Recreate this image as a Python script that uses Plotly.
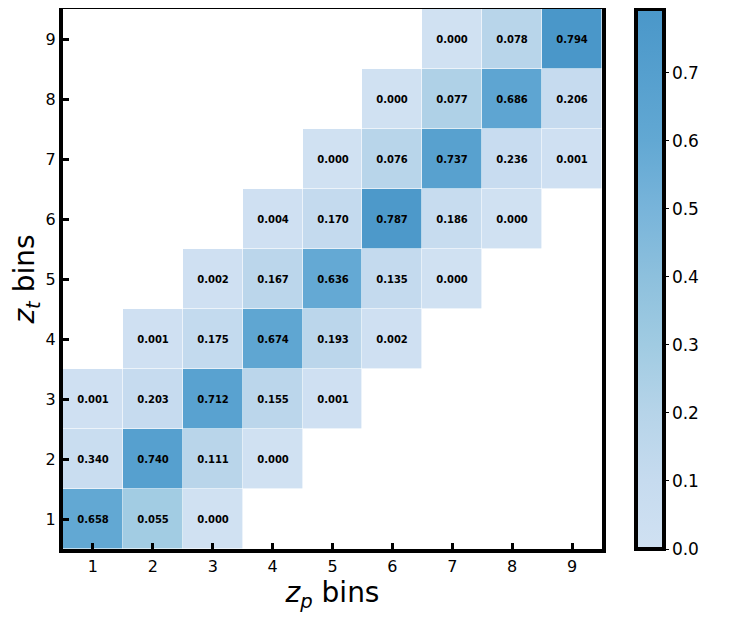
import plotly.graph_objects as go

# bin labels (z_p along x, z_t along y)
zp_bins = [1, 2, 3, 4, 5, 6, 7, 8, 9]
zt_bins = [1, 2, 3, 4, 5, 6, 7, 8, 9]
N = None

# printed fractions, one row per z_t bin (bottom -> top)
frac = [
    [0.658, 0.055, 0.000, N, N, N, N, N, N],
    [0.340, 0.740, 0.111, 0.000, N, N, N, N, N],
    [0.001, 0.203, 0.712, 0.155, 0.001, N, N, N, N],
    [N, 0.001, 0.175, 0.674, 0.193, 0.002, N, N, N],
    [N, N, 0.002, 0.167, 0.636, 0.135, 0.000, N, N],
    [N, N, N, 0.004, 0.170, 0.787, 0.186, 0.000, N],
    [N, N, N, N, 0.000, 0.076, 0.737, 0.236, 0.001],
    [N, N, N, N, N, 0.000, 0.077, 0.686, 0.206],
    [N, N, N, N, N, N, 0.000, 0.078, 0.794],
]

# cell shading
shade = [
    [0.60, 0.29, 0.00, N, N, N, N, N, N],
    [0.07, 0.69, 0.18, 0.00, N, N, N, N, N],
    [0.01, 0.10, 0.67, 0.17, 0.01, N, N, N, N],
    [N, 0.01, 0.12, 0.62, 0.17, 0.01, N, N, N],
    [N, N, 0.01, 0.17, 0.59, 0.11, 0.00, N, N],
    [N, N, N, 0.01, 0.11, 0.77, 0.09, 0.00, N],
    [N, N, N, N, 0.00, 0.19, 0.68, 0.08, 0.01],
    [N, N, N, N, N, 0.00, 0.23, 0.63, 0.10],
    [N, N, N, N, N, N, 0.00, 0.19, 0.794],
]

cbar_ticks = [0.0, 0.1, 0.2, 0.3, 0.4, 0.5, 0.6, 0.7]
zmax = 0.794

blues = [
    [0.000, "#d0e1f2"],
    [0.126, "#c6dbef"],
    [0.252, "#b6d4e9"],
    [0.378, "#a0cbe2"],
    [0.504, "#8dc0dd"],
    [0.630, "#78b4da"],
    [0.756, "#62a8d3"],
    [0.882, "#559fce"],
    [1.000, "#4a97c9"],
]

text = [["" if v is None else f"{v:.3f}" for v in row] for row in frac]

fig = go.Figure(
    go.Heatmap(
        x=zp_bins, y=zt_bins, z=shade,
        text=text,
        texttemplate="<b>%{text}</b>",
        textfont=dict(family="DejaVu Sans", size=10, color="black"),
        colorscale=blues, zmin=0, zmax=zmax,
        xgap=0.6, ygap=0.6,
        hoverongaps=False,
        colorbar=dict(
            x=1.063, xanchor="left", xref="paper",
            y=0.5, yanchor="middle", len=1.0, lenmode="fraction",
            xpad=0, ypad=0,
            thickness=28,
            outlinewidth=4, outlinecolor="black",
            ticks="outside", ticklen=3, tickwidth=1, tickcolor="black",
            tickvals=cbar_ticks, ticktext=[f"{t:.1f}" for t in cbar_ticks],
            tickfont=dict(family="DejaVu Sans", size=17, color="black"),
        ),
    )
)

axis_common = dict(
    range=[0.5, 9.5],
    tickvals=zp_bins,
    ticks="inside", ticklen=6, tickwidth=3, tickcolor="black",
    showline=True, linewidth=4, linecolor="black", mirror=True,
    showgrid=False, zeroline=False, automargin=False,
    tickfont=dict(family="DejaVu Sans", size=16, color="black"),
)

fig.update_xaxes(
    **axis_common,
    title=dict(text="<i>z</i><sub><i>p</i></sub> bins", standoff=4,
               font=dict(family="DejaVu Sans", size=28, color="black")),
)
fig.update_yaxes(
    **axis_common,
    title=dict(text="<i>z</i><sub><i>t</i></sub> bins", standoff=6,
               font=dict(family="DejaVu Sans", size=28, color="black")),
)

# page body adds an 8px offset, so the figure is drawn 8px smaller
fig.update_layout(
    width=739, height=615,
    margin=dict(l=55, r=145, t=1, b=74, autoexpand=False),
    plot_bgcolor="white", paper_bgcolor="white",
    font=dict(family="DejaVu Sans", color="black"),
)

fig.write_html("out.html")
